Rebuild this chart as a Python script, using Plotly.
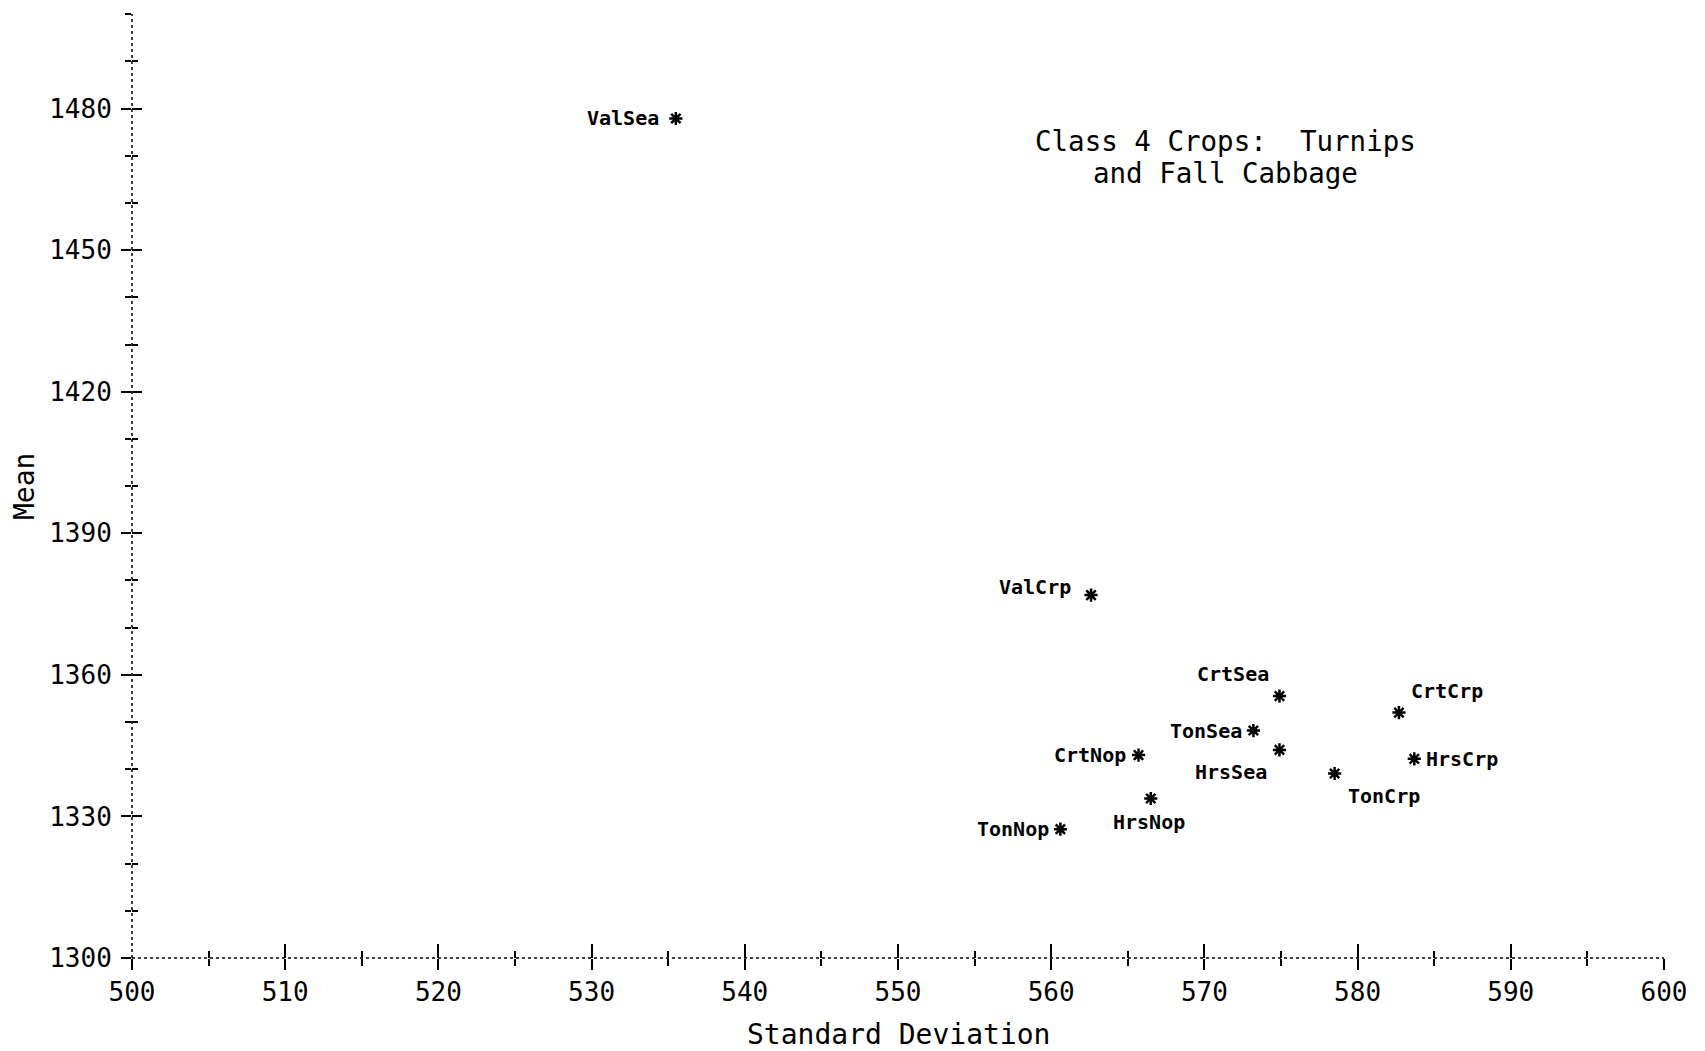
import plotly.graph_objects as go

# ---- data ----
names = ["ValSea", "ValCrp", "CrtSea", "CrtCrp", "TonSea", "HrsSea",
         "CrtNop", "HrsCrp", "TonCrp", "HrsNop", "TonNop"]
std_dev = [535.5, 562.6, 574.9, 582.7, 573.2, 574.9, 565.7, 583.7, 578.5, 566.5, 560.6]
mean = [1477.9, 1376.9, 1355.5, 1352.0, 1348.2, 1344.1, 1343.0, 1342.2, 1339.1, 1333.8, 1327.3]

title_lines = ["Class 4 Crops:  Turnips", "and Fall Cabbage"]
x_title = "Standard Deviation"
y_title = "Mean"

# ---- label placement style (anchor, x shift px, y shift px) ----
label_style = {
    "ValSea": ("right", -15, 1),
    "ValCrp": ("right", -18, 8),
    "CrtSea": ("right", -8, 22),
    "CrtCrp": ("left", 10, 22),
    "TonSea": ("right", -9, 0),
    "HrsSea": ("right", -10, -22),
    "CrtNop": ("right", -11, 0),
    "HrsCrp": ("left", 10, 0),
    "TonCrp": ("left", 11, -23),
    "HrsNop": ("center", -2, -23),
    "TonNop": ("right", -9, 0),
}

MONO = "DejaVu Sans Mono"

fig = go.Figure()
fig.add_trace(go.Scatter(
    x=std_dev, y=mean, mode="markers",
    marker=dict(symbol="asterisk-open", size=11, color="black",
                line=dict(color="black", width=2.5)),
    showlegend=False, hoverinfo="skip",
))
# invisible trace to activate the overlay axes
fig.add_trace(go.Scatter(x=[std_dev[0]], y=[mean[0]], xaxis="x2", yaxis="y2",
                         mode="markers", marker=dict(opacity=0), showlegend=False,
                         hoverinfo="skip"))

annotations = []
for n, xv, yv in zip(names, std_dev, mean):
    anc, dx, dy = label_style[n]
    annotations.append(dict(
        x=xv, y=yv, xref="x", yref="y", text="<b>%s</b>" % n, showarrow=False,
        xanchor=anc, yanchor="middle", xshift=dx, yshift=dy,
        font=dict(family=MONO, size=20, color="black")))

annotations.append(dict(x=0.7138, y=0.8655, xref="paper", yref="paper",
                        text=title_lines[0], showarrow=False, xanchor="center",
                        yanchor="middle", font=dict(family=MONO, size=27.5, color="black")))
annotations.append(dict(x=0.7138, y=0.8316, xref="paper", yref="paper",
                        text=title_lines[1], showarrow=False, xanchor="center",
                        yanchor="middle", font=dict(family=MONO, size=27.5, color="black")))

# axis titles placed as annotations relative to plot area
annotations.append(dict(x=0.5, y=0, xref="paper", yref="paper", text=x_title,
                        showarrow=False, xanchor="center", yanchor="middle", yshift=-76,
                        font=dict(family=MONO, size=28, color="black")))
annotations.append(dict(x=0, y=0.5, xref="paper", yref="paper", text=y_title,
                        showarrow=False, xanchor="center", yanchor="middle", xshift=-108,
                        yshift=-1, textangle=-90,
                        font=dict(family=MONO, size=28, color="black")))

axis_common = dict(showgrid=False, zeroline=False, showline=False,
                   tickcolor="black", tickwidth=2, automargin=False)

fig.update_layout(
    width=1705, height=1051,
    margin=dict(l=132, r=41, t=14, b=93),
    paper_bgcolor="white", plot_bgcolor="white",
    annotations=annotations,
    xaxis=dict(range=[500, 600], tick0=500, dtick=10, ticks="outside", ticklen=11,
               minor=dict(dtick=5, ticks="outside", ticklen=7, tickcolor="black", tickwidth=2),
               tickfont=dict(family=MONO, size=26, color="black"),
               **axis_common),
    yaxis=dict(range=[1300, 1500.05], tick0=1300, dtick=30, ticks="outside", ticklen=10,
               minor=dict(dtick=10, ticks="outside", ticklen=6, tickcolor="black", tickwidth=2),
               tickfont=dict(family=MONO, size=26, color="black"), ticklabelstandoff=4,
               **axis_common),
    xaxis2=dict(range=[500, 600], tick0=500, dtick=10, ticks="inside", ticklen=14,
                minor=dict(dtick=5, ticks="inside", ticklen=7, tickcolor="black", tickwidth=2),
                showticklabels=False, overlaying="x", side="bottom", anchor="y2",
                **axis_common),
    yaxis2=dict(range=[1300, 1500.05], tick0=1300, dtick=30, ticks="inside", ticklen=10,
                minor=dict(dtick=10, ticks="inside", ticklen=6, tickcolor="black", tickwidth=2),
                showticklabels=False, overlaying="y", side="left", anchor="x2",
                **axis_common),
    shapes=[
        dict(type="line", xref="paper", yref="paper", x0=0, x1=1, y0=0, y1=0,
             line=dict(color="black", width=1.5, dash="dot")),
        dict(type="line", xref="paper", yref="paper", x0=0, x1=0, y0=0, y1=1,
             line=dict(color="black", width=1.5, dash="dot")),
    ],
)

fig.write_html("out.html")
